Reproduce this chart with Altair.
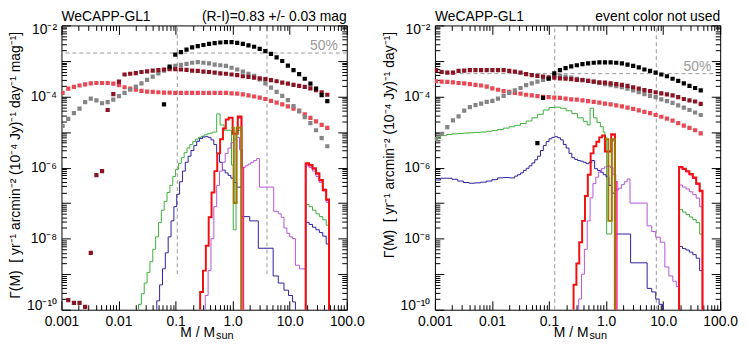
import altair as alt
import pandas as pd

FONT = "Liberation Sans"

# ---------------- axes ----------------
X_DOMAIN = [1e-3, 1e2]
Y_DOMAIN = [1e-10, 1e-2]
X_DECADES = [1e-3, 1e-2, 1e-1, 1.0, 1e1, 1e2]
X_LABELS = ["0.001", "0.01", "0.1", "1.0", "10.0", "100.0"]
Y_DECADES = [10.0 ** e for e in range(-10, -1)]
Y_LABEL_VALUES = [1e-10, 1e-8, 1e-6, 1e-4, 1e-2]
Y_LABELS = ["10⁻¹⁰", "10⁻⁸", "10⁻⁶", "10⁻⁴", "10⁻²"]
X_MINOR = [k * 10.0 ** e for e in range(-3, 2) for k in range(2, 10)]
Y_MINOR = [k * 10.0 ** e for e in range(-10, -2) for k in range(2, 10)]

# ---------------- texts ----------------
PANEL_TITLE = "WeCAPP-GL1"
NOTE_L = "(R-I)=0.83 +/- 0.03 mag"
NOTE_R = "event color not used"
YTITLE_L = "Γ(M)\u00a0\u00a0[ yr⁻¹ arcmin⁻² (10⁻⁴ Jy)⁻¹ day⁻¹ mag⁻¹]"
YTITLE_R = "Γ(M)\u00a0\u00a0[ yr⁻¹ arcmin⁻² (10⁻⁴ Jy)⁻¹ day⁻¹]"
XTITLE_MAIN = "M / M"
XTITLE_SUB = "sun"
FIFTY = "50%"

# ---------------- dashed reference lines ----------------
L_VLINES = [0.107, 4.0]
L_VLINE_BOTTOM = 1e-9
L_HLINE = 1.67e-3
R_VLINES = [0.126, 7.6]
R_VLINE_BOTTOM = 1e-10
R_HLINE = 4.4e-4

# ---------------- square markers: log10 Gamma on a regular log10 M grid ----------------
GRID_LOG_M0 = -2.98
GRID_DLOG_M = 0.0987

L_SALMON = [-3.9, -3.78, -3.73, -3.69, -3.66, -3.63, -3.62, -3.62, -3.62, -3.64,
            -3.68, -3.74, -3.78, -3.81, -3.84, -3.86, -3.87, -3.88, -3.89, -3.89,
            -3.9, -3.9, -3.9, -3.9, -3.9, -3.9, -3.9, -3.9, -3.9, -3.9,
            -3.91, -3.92, -3.94, -3.97, -4.0, -4.03, -4.07, -4.12, -4.17, -4.22,
            -4.28, -4.34, -4.4, -4.5, -4.6, -4.7, -4.8, -4.88]
L_DARKRED = [None, -9.73, -9.81, -9.81, -9.92, -8.4, -6.21, -6.1, -4.38, -3.93,
             -3.58, -3.38, -3.36, -3.34, -3.31, -3.29, -3.27, -3.26, -3.24, -3.23,
             -3.23, -3.24, -3.25, -3.27, -3.28, -3.3, -3.31, -3.33, -3.35, -3.36,
             -3.38, -3.4, -3.43, -3.45, -3.47, -3.49, -3.51, -3.54, -3.57, -3.61,
             -3.64, -3.67, -3.7, -3.73, -3.77, -3.82, -3.88, -3.95]
L_GRAY = [-4.83, -4.63, -4.47, -4.34, -4.16, -4.06, -4.11, -4.19, -4.16, -4.09,
          -3.99, -3.9, -3.81, -3.72, -3.63, -3.53, -3.44, -3.35, -3.27, -3.2,
          -3.14, -3.11, -3.08, -3.05, -3.03, -3.05, -3.07, -3.1, -3.12, -3.14,
          -3.19, -3.24, -3.3, -3.36, -3.42, -3.52, -3.63, -3.75, -3.87, -3.98,
          -4.1, -4.27, -4.42, -4.58, -4.75, -4.95, -5.17, -5.4]
L_BLACK = [None] * 18 + [-4.22, -3.16, -2.82, -2.75, -2.68, -2.62, -2.58, -2.55, -2.52, -2.5,
                         -2.48, -2.47, -2.47, -2.49, -2.52, -2.56, -2.6, -2.66, -2.72, -2.8,
                         -2.9, -3.0, -3.13, -3.26, -3.37, -3.5, -3.64, -3.78, -3.96, -4.13]

R_SALMON = [-3.57, -3.58, -3.59, -3.6, -3.62, -3.63, -3.65, -3.67, -3.69, -3.72,
            -3.77, -3.81, -3.85, -3.87, -3.9, -3.92, -3.95, -3.97, -3.99, -4.01,
            -4.02, -4.03, -4.04, -4.06, -4.08, -4.09, -4.11, -4.13, -4.15, -4.17,
            -4.2, -4.22, -4.25, -4.28, -4.31, -4.35, -4.39, -4.43, -4.47, -4.52,
            -4.57, -4.62, -4.68, -4.75, -4.82, -4.88, -4.95, -5.04]
R_DARKRED = [-3.26, -3.31, -3.33, -3.33, -3.28, -3.27, -3.26, -3.26, -3.26, -3.26,
             -3.26, -3.26, -3.26, -3.28, -3.3, -3.33, -3.37, -3.4, -3.42, -3.44,
             -3.46, -3.47, -3.49, -3.5, -3.51, -3.53, -3.54, -3.56, -3.58, -3.6,
             -3.61, -3.63, -3.65, -3.67, -3.7, -3.74, -3.78, -3.82, -3.85, -3.88,
             -3.91, -3.94, -3.97, -4.02, -4.07, -4.11, -4.14, -4.21]
R_GRAY = [-5.2, -5.05, -4.86, -4.67, -4.56, -4.4, -4.3, -4.24, -4.2, -4.15,
          -4.12, -4.06, -3.98, -3.9, -3.83, -3.76, -3.68, -3.63, -3.58, -3.53,
          -3.49, -3.43, -3.42, -3.44, -3.47, -3.5, -3.53, -3.56, -3.59, -3.62,
          -3.65, -3.68, -3.71, -3.74, -3.78, -3.83, -3.88, -3.93, -3.98, -4.02,
          -4.08, -4.13, -4.18, -4.25, -4.31, -4.38, -4.45, -4.52]
R_BLACK = [None] * 18 + [-5.31, -4.04, -3.5, -3.35, -3.26, -3.2, -3.15, -3.12, -3.09, -3.07,
                         -3.05, -3.04, -3.04, -3.04, -3.05, -3.07, -3.1, -3.14, -3.18, -3.24,
                         -3.28, -3.33, -3.38, -3.43, -3.5, -3.56, -3.63, -3.7, -3.76, -3.83]

# ---------------- step histograms: log10 M bin edges, log10 Gamma levels (-11 = below floor) ----------------
L_GREEN_X = [-1.70, -1.65, -1.60, -1.55, -1.50, -1.45, -1.40, -1.35, -1.30, -1.25, -1.20, -1.15, -1.10,
             -1.05, -1.00, -0.95, -0.90, -0.85, -0.80, -0.75, -0.70, -0.65, -0.60, -0.55, -0.50, -0.45,
             -0.40, -0.35, -0.28, -0.22, -0.15, -0.02, 0.01, 0.06, 0.155, 1.28, 1.34, 1.40, 1.46, 1.52,
             1.58, 1.64, 1.69]
L_GREEN_Y = [-11, -9.85, -9.55, -9.25, -8.95, -8.65, -8.3, -7.95, -7.55, -7.2, -6.95, -6.7, -6.5,
             -6.25, -6.05, -5.88, -5.72, -5.58, -5.45, -5.35, -5.27, -5.2, -5.15, -5.12, -5.08, -5.05,
             -5.03, -5.0, -4.49, -4.8, -4.95, -5.93, -7.75, -4.95, -11, -7.04, -7.1, -7.2, -7.3, -7.38,
             -7.47, -7.62, -11]
L_BLUE_X = [-1.38, -1.33, -1.28, -1.23, -1.18, -1.13, -1.08, -1.03, -0.98, -0.93, -0.88, -0.83, -0.78,
            -0.73, -0.68, -0.63, -0.58, -0.53, -0.48, -0.43, -0.38, -0.33, -0.28, -0.23, -0.18, -0.13,
            -0.08, -0.03, 0.02, 0.07, 0.155, 0.30, 0.45, 0.71, 0.80, 0.90, 0.98, 1.05, 1.10, 1.28,
            1.34, 1.40, 1.46, 1.52, 1.58, 1.64, 1.69]
L_BLUE_Y = [-11, -9.75, -9.3, -8.85, -8.4, -7.95, -7.5, -7.1, -6.75, -6.4, -6.1, -5.85, -5.68,
            -5.52, -5.38, -5.26, -5.18, -5.14, -5.13, -5.15, -5.22, -5.35, -5.6, -5.85, -6.07, -6.15,
            -6.22, -6.3, -6.42, -6.55, -7.38, -7.5, -8.27, -9.05, -9.25, -9.45, -9.6, -9.78, -11, -7.54,
            -7.6, -7.68, -7.75, -7.83, -7.93, -8.15, -11]
L_PURPLE_X = [-0.53, -0.48, -0.43, -0.38, -0.33, -0.28, -0.23, -0.18, -0.13, -0.08, -0.03, 0.02, 0.07,
              0.12, 0.17, 0.22, 0.27, 0.32, 0.37, 0.42, 0.47, 0.72, 0.80, 0.85, 0.90, 0.95, 1.0, 1.05,
              1.10, 1.17, 1.28, 1.34, 1.40, 1.46, 1.52, 1.58, 1.64, 1.69]
L_PURPLE_Y = [-11, -9.6, -8.9, -8.0, -7.1, -6.5, -6.1, -5.85, -5.6, -5.45, -5.3, -5.2, -5.15,
              -5.5, -6.0, -5.95, -5.9, -5.85, -5.8, -5.75, -6.55, -7.23, -7.3, -7.4, -7.7, -7.85, -7.95, -8.0,
              -8.75, -8.85, -5.95, -6.0, -6.1, -6.25, -6.42, -6.6, -6.98, -11]
L_RED_X = [-0.62, -0.57, -0.52, -0.47, -0.42, -0.37, -0.32, -0.27, -0.22, -0.17, -0.12, -0.07, 0.0,
           0.09, 0.155, 1.28, 1.34, 1.40, 1.46, 1.52, 1.58, 1.64, 1.69]
L_RED_Y = [-11, -9.5, -8.9, -8.2, -7.4, -6.7, -6.1, -5.6, -5.2, -4.9, -4.65, -4.6, -5.05,
           -4.56, -11, -5.88, -5.93, -6.02, -6.16, -6.35, -6.63, -6.9, -11]
L_PINK_X = [0.09, 0.155, 0.19, 1.28, 1.34, 1.40, 1.46, 1.52, 1.58, 1.64, 1.69]
L_PINK_Y = [-4.6, -6.0, -11, -5.9, -5.95, -6.04, -6.18, -6.37, -6.65, -6.92, -11]
L_OLIVE_X = [-0.02, 0.02, 0.07, 0.155]
L_OLIVE_Y = [-4.88, -7.0, -4.88, -11]

R_GREEN_X = [-3.0, -2.9, -2.8, -2.7, -2.6, -2.5, -2.4, -2.3, -2.2, -2.1, -2.0, -1.9, -1.8, -1.7,
             -1.6, -1.5, -1.4, -1.3, -1.2, -1.1, -1.0, -0.9, -0.8, -0.7, -0.6, -0.5, -0.4, -0.33,
             -0.28, -0.22, -0.16, -0.1, -0.05, -0.02, 0.01, 0.1, 0.155, 1.28, 1.34, 1.40, 1.46, 1.52,
             1.58, 1.64, 1.69]
R_GREEN_Y = [-5.18, -5.1, -5.07, -5.05, -5.04, -5.03, -5.02, -5.01, -5.0, -4.98, -4.96, -4.93, -4.89,
             -4.85, -4.81, -4.76, -4.69, -4.6, -4.5, -4.38, -4.31, -4.3, -4.33, -4.4, -4.48, -4.6, -4.7,
             -4.8, -4.33, -4.6, -4.73, -4.85, -5.0, -5.15, -7.87, -5.25, -11, -7.18, -7.25, -7.32, -7.39,
             -7.46, -7.55, -7.87, -11]
R_BLUE_X = [-3.0, -2.9, -2.8, -2.7, -2.6, -2.5, -2.4, -2.3, -2.2, -2.1, -2.0, -1.9, -1.8, -1.7, -1.6,
            -1.55, -1.5, -1.45, -1.4, -1.35, -1.3, -1.25, -1.2, -1.15, -1.1, -1.05, -1.0, -0.95, -0.9,
            -0.85, -0.8, -0.75, -0.7, -0.65, -0.6, -0.55, -0.5, -0.45, -0.4, -0.35, -0.3, -0.25, -0.2,
            -0.15, -0.1, -0.05, 0.0, 0.05, 0.1, 0.155, 0.43, 0.72, 0.8, 0.87, 0.93, 0.99, 1.28, 1.34,
            1.40, 1.46, 1.52, 1.58, 1.64, 1.69]
R_BLUE_Y = [-6.35, -6.3, -6.3, -6.33, -6.38, -6.42, -6.44, -6.43, -6.41, -6.38, -6.34, -6.29, -6.28,
            -6.29, -6.24, -6.2, -6.15, -6.08, -6.02, -5.95, -5.87, -5.78, -5.68, -5.52, -5.38, -5.27,
            -5.19, -5.15, -5.13, -5.16, -5.22, -5.35, -5.45, -5.6, -5.72, -5.77, -5.8, -5.82, -5.85,
            -5.89, -5.85, -5.8, -6.03, -6.08, -6.13, -6.2, -6.26, -6.5, -6.72, -7.87, -8.68, -9.4, -9.5,
            -9.7, -9.85, -11, -8.22, -8.28, -8.32, -8.38, -8.45, -8.55, -8.9, -11]
R_PURPLE_X = [-0.53, -0.48, -0.43, -0.38, -0.33, -0.28, -0.23, -0.18, -0.13, -0.08, -0.03, 0.02, 0.07,
              0.12, 0.17, 0.22, 0.27, 0.32, 0.37, 0.42, 0.72, 0.80, 0.87, 0.95, 1.03, 1.10, 1.17, 1.23,
              1.28, 1.34, 1.40, 1.46, 1.52, 1.58, 1.64, 1.69]
R_PURPLE_Y = [-11, -9.7, -9.0, -8.3, -7.5, -6.85, -6.45, -6.27, -6.12, -6.03, -5.98, -5.95, -6.0,
              -6.2, -6.63, -6.58, -6.48, -6.4, -6.32, -7.0, -7.64, -7.8, -7.96, -8.1, -8.8, -9.05, -9.2,
              -9.35, -6.49, -6.55, -6.6, -6.68, -6.76, -6.86, -7.1, -11]
R_RED_X = [-0.62, -0.57, -0.52, -0.47, -0.42, -0.37, -0.32, -0.27, -0.22, -0.17, -0.12, -0.07, -0.02,
           0.09, 0.155, 1.28, 1.34, 1.40, 1.46, 1.52, 1.58, 1.64, 1.69]
R_RED_Y = [-11, -9.3, -8.7, -8.1, -7.5, -6.8, -6.2, -5.6, -5.4, -5.27, -5.15, -5.1, -5.55,
           -5.06, -11, -5.98, -6.03, -6.1, -6.18, -6.28, -6.45, -6.65, -11]
R_PINK_X = [0.09, 0.155, 0.19, 1.28, 1.34, 1.40, 1.46, 1.52, 1.58, 1.64, 1.69]
R_PINK_Y = [-5.08, -6.4, -11, -6.0, -6.05, -6.12, -6.2, -6.3, -6.47, -6.67, -11]
R_OLIVE_X = [-0.02, 0.04, 0.10, 0.155]
R_OLIVE_Y = [-5.2, -7.5, -5.2, -11]

# ---------------- styles ----------------
C_BLACK, C_GRAY, C_DARKRED, C_SALMON = "#000000", "#858585", "#8a1424", "#e84a55"
C_GREEN, C_BLUE, C_PURPLE, C_RED, C_PINK, C_OLIVE = "#3cb03c", "#2a1fa0", "#b455d8", "#f01010", "#ff2090", "#9b7a0a"
C_DASH = "#9a9a9a"
W = 288
H = 287

XS = alt.Scale(type="log", domain=X_DOMAIN, nice=False)
YS = alt.Scale(type="log", domain=Y_DOMAIN, nice=False)


def label_expr(values, labels):
    expr = "''"
    for v, lab in reversed(list(zip(values, labels))):
        expr = f"datum.value < {v * 3:g} ? '{lab}' : ({expr})"
    return expr


DUMMY = pd.DataFrame({"M": [1.0], "G": [1e-5]})


def axis_layer(xaxis, yaxis):
    return alt.Chart(DUMMY).mark_point(opacity=0).encode(
        x=alt.X("M:Q", scale=XS, axis=xaxis),
        y=alt.Y("G:Q", scale=YS, axis=yaxis),
    )


def tick_axis(orient, values, size):
    return alt.Axis(orient=orient, values=values, offset=-size, tickSize=size, tickColor="black",
                    tickWidth=1, labels=False, domain=False, grid=False, title=None,
                    minExtent=0, maxExtent=0)


def label_layer(ytitle):
    xa = alt.Axis(orient="bottom", values=X_DECADES, labelExpr=label_expr(X_DECADES, X_LABELS),
                  ticks=False, tickSize=0, domain=False, grid=False, title=None, labelFont=FONT,
                  labelFontSize=14, labelColor="black", labelPadding=5, labelFlush=False,
                  labelOverlap=False, minExtent=0)
    ya = alt.Axis(orient="left", values=Y_LABEL_VALUES, labelExpr=label_expr(Y_LABEL_VALUES, Y_LABELS),
                  ticks=False, tickSize=0, domain=False, grid=False, labelFont=FONT, labelFontSize=14,
                  labelColor="black", labelPadding=5, labelOverlap=False, labelFlush=True,
                  labelFlushOffset=3,
                  title=ytitle, titleFont=FONT, titleFontSize=14, titleFontWeight="normal",
                  titleColor="black", titleAngle=270, titleAlign="right", titleAnchor="end",
                  titleBaseline="bottom", titleX=-39, titleY=6, minExtent=0)
    return axis_layer(xa, ya)


def step_layer(xs, ys, color, width):
    df = pd.DataFrame({"M": [10.0 ** x for x in xs], "G": [10.0 ** y for y in ys], "i": list(range(len(xs)))})
    return alt.Chart(df).mark_line(interpolate="step-after", color=color, strokeWidth=width, clip=True).encode(
        x=alt.X("M:Q", scale=XS, axis=None),
        y=alt.Y("G:Q", scale=YS, axis=None),
        order=alt.Order("i:Q"),
    )


def scatter_layer(vals, color):
    rows = [{"M": 10.0 ** (GRID_LOG_M0 + i * GRID_DLOG_M), "G": 10.0 ** v}
            for i, v in enumerate(vals) if v is not None]
    return alt.Chart(pd.DataFrame(rows)).mark_square(size=18, color=color, opacity=1, clip=True).encode(
        x=alt.X("M:Q", scale=XS, axis=None),
        y=alt.Y("G:Q", scale=YS, axis=None),
    )


def text_layer(text, x, y, align, size=14, color="black"):
    return alt.Chart(pd.DataFrame({"t": [text]})).mark_text(
        align=align, baseline="alphabetic", font=FONT, fontSize=size, color=color
    ).encode(x=alt.value(x), y=alt.value(y), text="t:N")


def panel(p):
    vdf = pd.DataFrame({"M": p["vlines"], "lo": [p["vbottom"]] * len(p["vlines"]), "hi": [Y_DOMAIN[1]] * len(p["vlines"])})
    vrules = alt.Chart(vdf).mark_rule(color=C_DASH, strokeDash=[4, 3], strokeWidth=1).encode(
        x=alt.X("M:Q", scale=XS, axis=None),
        y=alt.Y("lo:Q", scale=YS, axis=None),
        y2="hi:Q",
    )
    hdf = pd.DataFrame({"G": [p["hline"]], "t": [FIFTY]})
    hrule = alt.Chart(hdf).mark_rule(color=C_DASH, strokeDash=[4, 3], strokeWidth=1).encode(
        y=alt.Y("G:Q", scale=YS, axis=None))
    fifty = alt.Chart(hdf).mark_text(align="right", baseline="alphabetic", dy=-3, font=FONT,
                                     fontSize=14, color=C_DASH).encode(
        x=alt.value(W - 9), y=alt.Y("G:Q", scale=YS, axis=None), text="t:N")
    layers = [
        label_layer(p["ytitle"]),
        axis_layer(tick_axis("bottom", X_DECADES, 9), tick_axis("left", Y_DECADES, 9)),
        axis_layer(tick_axis("bottom", X_MINOR, 5), tick_axis("left", Y_MINOR, 5)),
        axis_layer(tick_axis("top", X_DECADES, 9), tick_axis("right", Y_DECADES, 9)),
        axis_layer(tick_axis("top", X_MINOR, 5), tick_axis("right", Y_MINOR, 5)),
        vrules, hrule, fifty,
        step_layer(p["green"][0], p["green"][1], C_GREEN, 1),
        step_layer(p["blue"][0], p["blue"][1], C_BLUE, 1),
        step_layer(p["purple"][0], p["purple"][1], C_PURPLE, 1),
        step_layer(p["pink"][0], p["pink"][1], C_PINK, 1.5),
        step_layer(p["red"][0], p["red"][1], C_RED, 2),
        step_layer(p["olive"][0], p["olive"][1], C_OLIVE, 2),
        scatter_layer(p["salmon"], C_SALMON),
        scatter_layer(p["gray"], C_GRAY),
        scatter_layer(p["darkred"], C_DARKRED),
        scatter_layer(p["black"], C_BLACK),
        text_layer(PANEL_TITLE, 0, -4, "left"),
        text_layer(p["note"], W, -4, "right"),
        text_layer(XTITLE_MAIN, 155, H + 28, "right"),
        text_layer(XTITLE_SUB, 156, H + 30, "left", size=11),
    ]
    return alt.layer(*layers).resolve_axis(x="independent", y="independent").properties(width=W, height=H)


left = panel(dict(
    ytitle=YTITLE_L, note=NOTE_L, vlines=L_VLINES, vbottom=L_VLINE_BOTTOM, hline=L_HLINE,
    green=(L_GREEN_X, L_GREEN_Y), blue=(L_BLUE_X, L_BLUE_Y), purple=(L_PURPLE_X, L_PURPLE_Y),
    pink=(L_PINK_X, L_PINK_Y), red=(L_RED_X, L_RED_Y), olive=(L_OLIVE_X, L_OLIVE_Y),
    salmon=L_SALMON, gray=L_GRAY, darkred=L_DARKRED, black=L_BLACK,
))
right = panel(dict(
    ytitle=YTITLE_R, note=NOTE_R, vlines=R_VLINES, vbottom=R_VLINE_BOTTOM, hline=R_HLINE,
    green=(R_GREEN_X, R_GREEN_Y), blue=(R_BLUE_X, R_BLUE_Y), purple=(R_PURPLE_X, R_PURPLE_Y),
    pink=(R_PINK_X, R_PINK_Y), red=(R_RED_X, R_RED_Y), olive=(R_OLIVE_X, R_OLIVE_Y),
    salmon=R_SALMON, gray=R_GRAY, darkred=R_DARKRED, black=R_BLACK,
))

chart = alt.hconcat(left, right, spacing=16).properties(padding=0).configure_view(
    stroke="black", strokeWidth=1
)

chart.save("out.html", embed_options={"renderer": "svg", "actions": False})
